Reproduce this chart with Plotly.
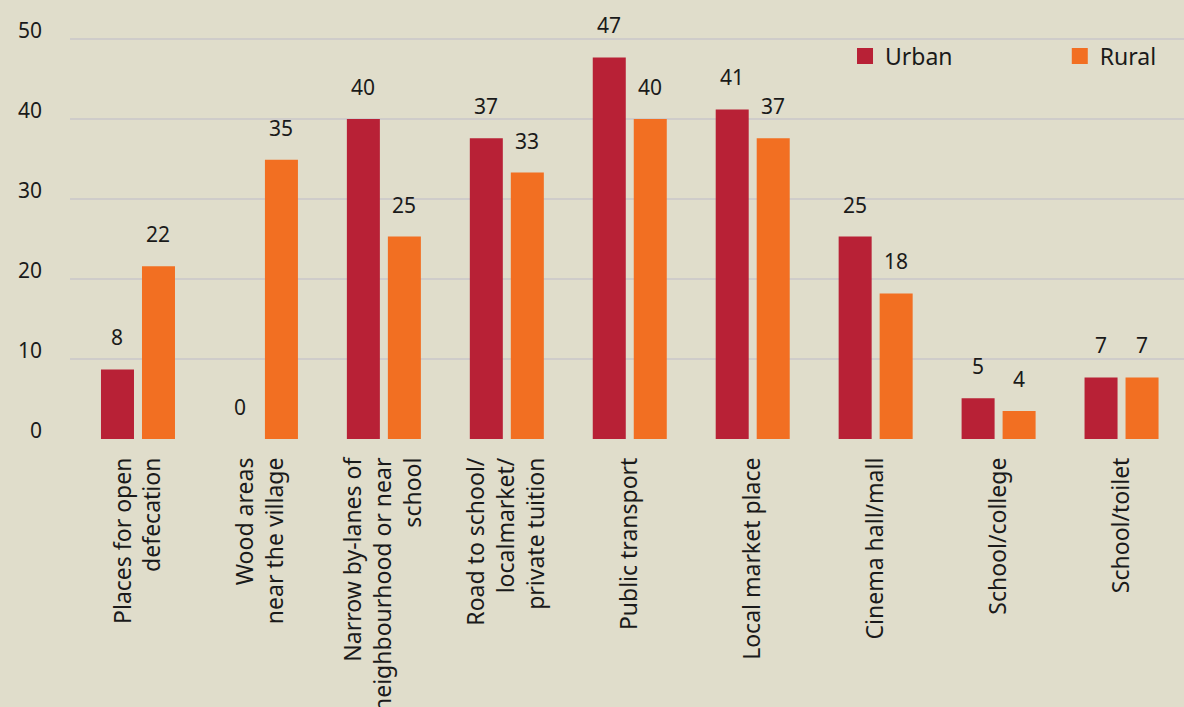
import plotly.graph_objects as go

# categories along the x axis (line breaks as in the source)
places = [
    "Places for open<br>defecation",
    "Wood areas<br>near the village",
    "Narrow by-lanes of<br>neighbourhood or near<br>school",
    "Road to school/<br>localmarket/<br>private tuition",
    "Public transport",
    "Local market place",
    "Cinema hall/mall",
    "School/college",
    "School/toilet",
]

urban = [8.7, 0, 40, 37.6, 47.7, 41.2, 25.3, 5.1, 7.7]
rural = [21.6, 34.9, 25.3, 33.3, 40, 37.6, 18.2, 3.5, 7.7]
urban_lbl = ["8", "0", "40", "37", "47", "41", "25", "5", "7"]
rural_lbl = ["22", "35", "25", "33", "40", "37", "18", "4", "7"]

red = "#B82136"
orange = "#F26F22"
bg = "#E0DDCB"
font = "Noto Sans"
ink = "#1a1a1a"

fig = go.Figure()
fig.add_trace(go.Bar(x=places, y=urban, marker_color=red, marker_line_width=0,
                     showlegend=False))
fig.add_trace(go.Bar(x=places, y=rural, marker_color=orange,
                     marker_line_width=0, showlegend=False))

# legend entries (big square swatches), one legend box each
fig.add_trace(go.Scatter(x=[None], y=[None], mode="markers", name="Urban",
                         marker=dict(symbol="square", size=20, color=red),
                         legend="legend"))
fig.add_trace(go.Scatter(x=[None], y=[None], mode="markers", name="Rural",
                         marker=dict(symbol="square", size=20, color=orange),
                         legend="legend2"))

# value labels floating a little above each bar
for i, p in enumerate(places):
    fig.add_annotation(x=p, y=urban[i], text=urban_lbl[i], showarrow=False,
                       xshift=-20.5, yshift=32, yanchor="middle",
                       font=dict(size=21, color=ink, family=font))
    fig.add_annotation(x=p, y=rural[i], text=rural_lbl[i], showarrow=False,
                       xshift=20.5, yshift=32, yanchor="middle",
                       font=dict(size=21, color=ink, family=font))

leg = dict(orientation="h", yanchor="middle", xanchor="left",
           font=dict(size=23, color=ink, family=font),
           bgcolor="rgba(0,0,0,0)", itemsizing="trace")
fig.update_layout(
    width=1184, height=707,
    paper_bgcolor=bg, plot_bgcolor=bg,
    margin=dict(l=70, r=0, t=37, b=268, autoexpand=False),
    barmode="group", bargap=0.333, bargroupgap=0.195,
    font=dict(family=font, color=ink),
    legend=dict(leg, x=0.6957, y=0.9527),
    legend2=dict(leg, x=0.8885, y=0.9527),
)
fig.update_xaxes(range=[-0.553, 8.508], tickangle=-90, showgrid=False,
                 ticks="", tickfont=dict(size=23), showline=False,
                 ticklabelstandoff=13)
fig.update_yaxes(range=[0, 50.25], tickvals=[0, 10, 20, 30, 40, 50],
                 gridcolor="#CFCCCA", gridwidth=2, zeroline=False,
                 showline=False, tickfont=dict(size=21), ticklabelshift=-8,
                 ticklabelstandoff=27)

fig.write_html("out.html", config={"displayModeBar": False}, post_script=(
    "document.body.style.margin='0';"
    "document.body.style.overflow='hidden';"
    "document.body.style.background='" + bg + "';"))
